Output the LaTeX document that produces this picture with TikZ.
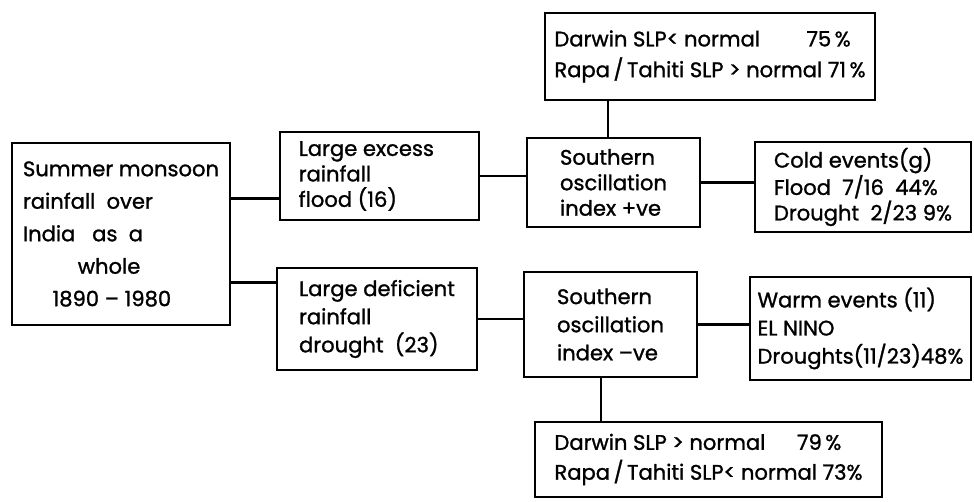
\documentclass[tikz,border=0pt]{standalone}
\usepackage{fontspec}
\setmainfont{Poppins}[FakeBold=1.2]
\usepackage{tikz}
\usetikzlibrary{calc}

\begin{document}
\begin{tikzpicture}[x=0.02cm,y=-0.02cm]
\useasboundingbox (0,0) rectangle (974,502);
\begin{scope}[every node/.style={rectangle,draw,line width=1.4pt,align=left,inner sep=0pt,
                                 font=\fontsize{12}{14.5}\selectfont}]
    \node (main) at (121,234) [minimum width=4.36cm,minimum height=3.64cm,
        font=\fontsize{12}{18.5}\selectfont]
        {Summer monsoon\\rainfall\ \ over\\India\ \ \ as\ \ a\\\hspace*{2.6em}whole\\\hspace*{1.4em}1890 -- 1980};
    \node (excess) at (379.5,176) [minimum width=3.98cm,minimum height=1.76cm]
        {Large excess\\rainfall\\flood\ (16)\hspace*{3em}};
    \node (deficient) at (377,319) [minimum width=4cm,minimum height=2.04cm,
        font=\fontsize{12}{16}\selectfont]
        {Large deficient\\rainfall\\drought\ \ (23)};
    \node (soip) at (613.5,182.5) [minimum width=3.46cm,minimum height=1.78cm]
        {Southern\\oscillation\\index +ve};
    \node (soin) at (610.5,324.5) [minimum width=3.46cm,minimum height=2.1cm,
        font=\fontsize{12}{16}\selectfont]
        {Southern\\oscillation\\index --ve};
    \node (cold) at (863,187) [minimum width=4.32cm,minimum height=1.8cm]
        {Cold events(g)\\Flood\ \ 7/16\ \ 44\%\\Drought\ \ 2/23\ 9\%};
    \node (warm) at (860.5,328.5) [minimum width=4.42cm,minimum height=2.06cm,
        font=\fontsize{12}{16}\selectfont]
        {Warm events (11)\\EL NINO\\Droughts(11/23)48\%};
    \node (top) at (710,56.5) [minimum width=6.6cm,minimum height=1.74cm,
        font=\fontsize{12}{17.5}\selectfont]
        {Darwin SLP< normal\hspace*{2.2em}75\,\%\\Rapa\,/\,Tahiti SLP > normal 71\,\%};
    \node (bot) at (708.5,459.5) [minimum width=6.94cm,minimum height=1.5cm,
        font=\fontsize{12}{17}\selectfont]
        {Darwin SLP > normal\hspace*{1.5em}79\,\%\\Rapa\,/\,Tahiti SLP<\ normal\ 73\%};
\end{scope}
\begin{scope}[link/.style={draw=black,line width=1.4pt}]
    \coordinate (e1) at ($(excess.south west)!0.25!(excess.north west)$);
    \coordinate (d1) at ($(deficient.south west)!0.85!(deficient.north west)$);
    \coordinate (s1) at ($(soin.south)+(-9.5,0)$);
    \coordinate (t1) at ($(soip.north)+(-5.5,0)$);
    \path (main.east |- e1) edge [link] (e1);
    \path (main.east |- d1) edge [link] (d1);
    \path (excess.east) edge [link] (excess.east -| soip.west);
    \path (deficient.east) edge [link] (deficient.east -| soin.west);
    \path (soip.east) edge [link] (soip.east -| cold.west);
    \path (soin.east) edge [link] (soin.east -| warm.west);
    \path (t1) edge [link] (t1 |- top.south);
    \path (s1) edge [link] (s1 |- bot.north);
\end{scope}
\end{tikzpicture}
\end{document}
